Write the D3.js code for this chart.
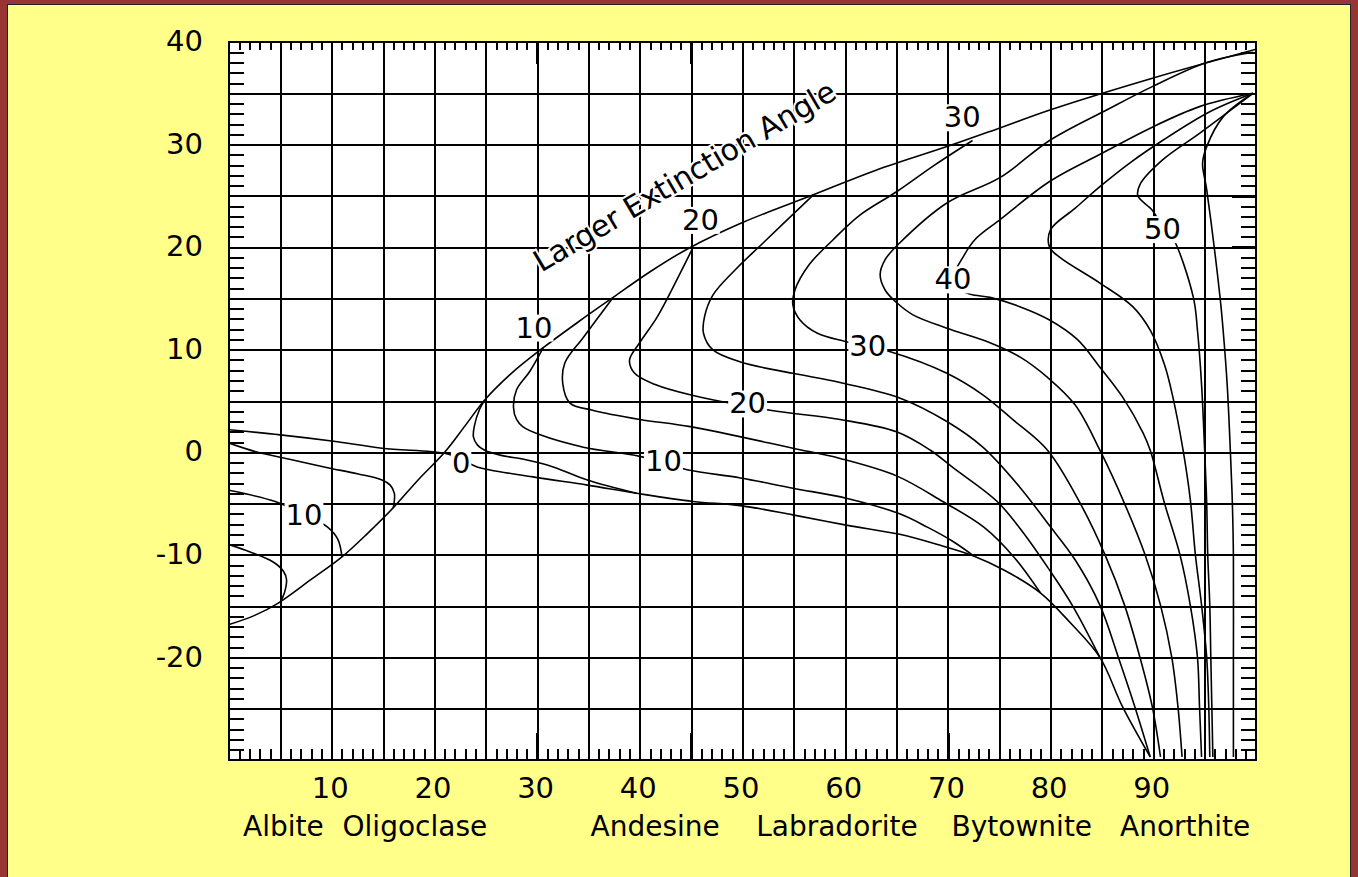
<!DOCTYPE html>
<html><head><meta charset="utf-8">
<script src="https://cdn.jsdelivr.net/npm/d3@7"></script>
<style>
html,body{margin:0;padding:0;background:#983434;}
svg{display:block;}
text{font-family:"DejaVu Sans",sans-serif;fill:#000;}
</style>
</head><body>
<svg id="c" width="1358" height="877"></svg>
<script>
// ---------- data ----------
const xDomain = [0, 100];
const yDomain = [-30, 40];
const xTickLabels = [10, 20, 30, 40, 50, 60, 70, 80, 90];
const yTickLabels = [40, 30, 20, 10, 0, -10, -20];
const mineralNames = ["Albite", "Oligoclase", "Andesine", "Labradorite", "Bytownite", "Anorthite"];
const mineralCenters = [5.3, 18.1, 41.5, 59.2, 77.2, 93.1];
const longTicksLeft = [35, 30];
const longTicksRight = [35, 30, 25, 20, -25];
const longTicksTop = [20, 30, 45, 65, 80];
const longTicksBottom = [20, 30, 35, 45, 70, 75];

// envelope: "Larger Extinction Angle"
const envelope = [[0,-16.8],[2.5,-15.9],[4.8,-14.7],[8,-12.4],[11,-10.2],[13.5,-7.9],[16,-5.4],[18.5,-2.6],[21,0],[23,2.6],[24.9,5.1],[27.5,7.7],[30.6,10.2],[34,12.7],[37.4,15.1],[41,17.6],[44.6,19.8],[50,22.4],[56.9,25.1],[63,27.5],[70.2,29.9],[75,31.6],[80,33.4],[90,36.5],[100,39.3]];

// left-hand curves (low An)
const leftA = [[0,0.9],[2.8,0.0],[6,-0.7],[9.6,-1.5],[12.5,-2.1],[14.9,-2.7],[15.7,-3.2],[16.1,-4.0],[16.1,-4.7],[16.0,-5.4]];
const leftB = [[0,-3.7],[4.5,-4.8],[7.0,-5.9],[9.6,-7.3],[10.6,-8.5],[11.0,-10.2]];
const leftC = [[0,-9.0],[2.0,-9.7],[4.3,-10.7],[5.3,-11.6],[5.6,-12.4],[5.4,-13.7],[5.0,-14.6]];

// curves of equal larger extinction angle
const ang0  = [[0,2.2],[5,1.7],[10,1.1],[14.9,0.4],[21,-0.1],[22.5,-0.6],[24.1,-1.4],[29.6,-2.4],[34.9,-3.2],[39.7,-4.0],[45.2,-4.8],[49.8,-5.2],[54.9,-6.1],[60.1,-7.1],[65.3,-8.0],[69,-9.0],[72.5,-10.1],[75.5,-11.5],[79.0,-13.7],[81.9,-16.6],[84.8,-20.0],[87.0,-24.8],[89.7,-29.7]];
const ang5  = [[24.9,5.1],[24.4,4.2],[23.9,2.6],[23.8,1.5],[24.2,0.7],[24.9,0.2],[26.5,-0.3],[28.8,-0.7],[31.5,-1.4],[34.9,-2.7],[39.7,-4.0]];
const ang10 = [[30.6,10.2],[29.3,7.9],[28.0,6.1],[27.7,4.4],[28.0,3.2],[28.6,2.5],[30.3,1.7],[34.5,0.5],[40.0,-0.4],[44.6,-1.7],[49.8,-2.5],[54.9,-3.5],[60.2,-4.5],[65.3,-6.0],[68,-7.3],[70.5,-8.7],[72.5,-10.1]];
const ang15 = [[37.4,15.1],[34.5,11.2],[32.7,8.7],[32.5,6.7],[33.2,4.8],[35.4,4.1],[40,3.2],[44.9,2.5],[54.9,0.4],[59.5,-0.6],[65.0,-2.3],[69.5,-4.8],[73.5,-7.3],[76.5,-10.3],[79.0,-13.7]];
const ang20 = [[45.2,20.0],[43.9,17.4],[41.7,13.2],[40.0,10.7],[39.0,9.0],[39.5,7.7],[41.5,6.6],[44.9,5.6],[52.7,4.1],[59.5,3.2],[65.0,2.0],[68.3,0.2],[70.5,-1.5],[74.8,-4.8],[77.3,-7.8],[79.7,-11.2],[82.1,-14.9],[84.8,-20.0]];
const ang25 = [[56.9,25.1],[52.0,20.4],[49.3,17.8],[47.1,15.3],[46.3,13.2],[46.2,11.6],[47.1,10.0],[49.8,8.8],[54.9,7.7],[59.5,6.8],[65.3,5.3],[69.9,3.0],[73.4,0.5],[77.0,-3.4],[79.7,-6.9],[82.4,-10.5],[84.8,-14.9],[86.6,-20.0],[88.2,-24.8],[89.7,-29.7]];
const ang30 = [[72.4,30.4],[68.7,28.0],[65.0,25.4],[61.4,23.1],[58.8,20.7],[56.5,18.3],[55.1,15.8],[54.9,14.4],[55.6,12.9],[57.3,11.6],[60.0,10.8],[64.4,9.8],[69.9,7.7],[73.4,5.6],[76.3,3.2],[79.7,0.2],[82.9,-5.0],[85.3,-10.0],[87.2,-14.9],[88.7,-20.0],[89.9,-24.8],[90.7,-29.7]];
const ang35 = [[99.7,39.0],[95.2,38.0],[90,35.7],[85.5,33.4],[79.9,30.4],[75.1,26.8],[69.9,24.3],[65.3,20.4],[63.9,18.8],[63.4,17.3],[63.9,15.8],[65.0,14.6],[66.6,13.4],[69.9,12.1],[73.8,10.8],[77.0,9.3],[79.7,7.3],[82.4,4.6],[84.8,0.2],[87.2,-5.0],[89.2,-10.0],[90.7,-14.9],[91.8,-20.0],[92.4,-24.8],[92.8,-29.7]];
const ang40 = [[99.7,35.0],[94.5,33.7],[89.7,31.6],[85.1,29.2],[79.9,26.4],[75.1,22.7],[72.6,20.7],[71.4,18.9],[70.6,17.3],[70.8,16.1],[72.2,15.4],[74.1,15.1],[77.0,14.2],[79.9,12.9],[82.6,11.0],[84.8,8.3],[87.0,5.4],[89.0,1.9],[89.7,0.2],[91.1,-5.0],[92.6,-10.0],[93.6,-14.9],[94.3,-20.0],[94.5,-24.8],[94.7,-29.7]];
const ang45 = [[99.7,35.0],[95.5,33.2],[90.9,30.4],[87.7,28.2],[84.8,25.9],[82.4,23.8],[80.0,21.7],[79.9,20.0],[80.9,19.0],[84.8,16.5],[88.0,14.2],[89.7,11.9],[91.1,8.5],[91.9,5.4],[92.9,0.2],[93.6,-4.6],[94.1,-10.0],[94.7,-14.9],[95.2,-20.0],[95.4,-24.8],[95.5,-29.7]];
const ang50 = [[99.7,35.0],[94.5,31.1],[90.9,28.5],[88.7,26.1],[88.5,25.0],[89.9,23.6],[90.9,22.0],[91.9,20.9],[93.9,15.1],[94.3,11.9],[94.7,6.6],[95.0,0.2],[95.2,-5.0],[95.3,-10.0],[95.5,-14.9],[95.6,-20.0],[95.7,-24.8],[95.8,-29.7]];
const ang55 = [[99.7,35.0],[96.8,32.7],[95.2,29.8],[94.8,28.2],[95.2,25.6],[96.5,15.1],[96.8,11.9],[97.2,6.5],[97.5,0.2],[97.7,-5.0],[97.8,-10.0],[97.8,-20.0],[97.8,-29.7]];

// curve labels
const labelTexts = ["0", "10", "10", "20", "30", "40", "50", "10", "20", "30"];
const labelX = [22.6, 7.3, 42.3, 50.5, 62.2, 70.5, 90.9, 29.7, 45.9, 71.4];
const labelY = [-1.0, -6.1, -0.8, 4.8, 10.4, 16.9, 21.8, 12.2, 22.7, 32.7];
const titleText = "Larger Extinction Angle";
const titleAt = [30.4, 17.5];

// ---------- drawing ----------
const W = 1358, H = 877;
const svg = d3.select("#c");
svg.append("rect").attr("width", W).attr("height", H).attr("fill", "#983434");
svg.append("rect").attr("x", 7.5).attr("y", 4.5).attr("width", 1343).attr("height", H)
   .attr("fill", "#ffff8a").attr("stroke", "#222").attr("stroke-width", 1);

const x = d3.scaleLinear().domain(xDomain).range([229, 1256]);
const y = d3.scaleLinear().domain(yDomain).range([760, 42]);
const pw = x(100) - x(0), ph = y(-30) - y(40);

svg.append("rect").attr("x", x(0)).attr("y", y(40)).attr("width", pw).attr("height", ph).attr("fill", "#fff");
svg.append("clipPath").attr("id", "clip").append("rect")
   .attr("x", x(0)).attr("y", y(40)).attr("width", pw).attr("height", ph);

function styleAxis(g, w) {
  g.select(".domain").remove();
  g.selectAll(".tick line").attr("stroke", "#000").attr("stroke-width", w).attr("shape-rendering", "crispEdges");
}

// grid
const gridX = d3.range(5, 100, 5), gridY = d3.range(-25, 40, 5);
svg.append("g").attr("transform", `translate(0,${y(-30)})`)
   .call(d3.axisBottom(x).tickValues(gridX).tickSize(-ph).tickFormat(""))
   .call(g => styleAxis(g, 2));
svg.append("g").attr("transform", `translate(${x(0)},0)`)
   .call(d3.axisLeft(y).tickValues(gridY).tickSize(-pw).tickFormat(""))
   .call(g => styleAxis(g, 2));

// curves
const line = d3.line().x(d => x(d[0])).y(d => y(d[1])).curve(d3.curveCatmullRom.alpha(0.5));
const curves = [envelope, leftA, leftB, leftC, ang0, ang5, ang10, ang15, ang20, ang25, ang30, ang35, ang40, ang45, ang50, ang55];
svg.append("g").attr("clip-path", "url(#clip)")
   .selectAll("path").data(curves).join("path")
   .attr("d", line).attr("fill", "none").attr("stroke", "#000").attr("stroke-width", 1.6)
   .attr("stroke-linejoin", "round");

// curve labels with white boxes
const lg = svg.append("g");
labelTexts.forEach((t, i) => {
  const g = lg.append("g");
  const tx = g.append("text").attr("x", x(labelX[i])).attr("y", y(labelY[i]))
    .attr("text-anchor", "middle").attr("dy", "0.36em")
    .style("font-size", "29px").text(t);
  const b = tx.node().getBBox();
  g.insert("rect", "text").attr("x", b.x - 1).attr("y", b.y + 4).attr("width", b.width + 2)
    .attr("height", b.height - 7).attr("fill", "#fff");
});

// title along envelope
svg.append("text")
   .attr("transform", `translate(${x(titleAt[0])},${y(titleAt[1])}) rotate(-30.5)`)
   .attr("textLength", 345).attr("lengthAdjust", "spacing")
   .style("font-size", "30px")
   .attr("stroke", "#fff").attr("stroke-width", 4).attr("paint-order", "stroke")
   .text(titleText);

// frame
svg.append("rect").attr("x", x(0)).attr("y", y(40)).attr("width", pw).attr("height", ph)
   .attr("fill", "none").attr("stroke", "#000").attr("stroke-width", 2);

// minor ticks inside the frame
const minorX = d3.range(1, 100), minorY = d3.range(-29, 40);
svg.append("g").attr("transform", `translate(0,${y(40)})`)
   .call(d3.axisTop(x).tickValues(minorX).tickSize(-8).tickFormat("")).call(g => styleAxis(g, 2));
svg.append("g").attr("transform", `translate(0,${y(-30)})`)
   .call(d3.axisBottom(x).tickValues(minorX).tickSize(-11).tickFormat("")).call(g => styleAxis(g, 2));
svg.append("g").attr("transform", `translate(${x(0)},0)`)
   .call(d3.axisLeft(y).tickValues(minorY).tickSize(-15).tickFormat("")).call(g => styleAxis(g, 2));
svg.append("g").attr("transform", `translate(${x(100)},0)`)
   .call(d3.axisRight(y).tickValues(minorY).tickSize(-15).tickFormat("")).call(g => styleAxis(g, 2));
// longer ticks
svg.append("g").attr("transform", `translate(0,${y(40)})`)
   .call(d3.axisTop(x).tickValues(longTicksTop).tickSize(-22).tickFormat("")).call(g => styleAxis(g, 2.5));
svg.append("g").attr("transform", `translate(0,${y(-30)})`)
   .call(d3.axisBottom(x).tickValues(longTicksBottom).tickSize(-27).tickFormat("")).call(g => styleAxis(g, 2.5));
svg.append("g").attr("transform", `translate(${x(0)},0)`)
   .call(d3.axisLeft(y).tickValues(longTicksLeft).tickSize(-23).tickFormat("")).call(g => styleAxis(g, 2.5));
svg.append("g").attr("transform", `translate(${x(100)},0)`)
   .call(d3.axisRight(y).tickValues(longTicksRight).tickSize(-24).tickFormat("")).call(g => styleAxis(g, 2.5));

// tick labels (plain hyphen for negatives, as in the reference)
const yl = svg.append("g").attr("transform", `translate(${x(0)},0)`)
   .call(d3.axisLeft(y).tickValues(yTickLabels).tickSize(0).tickPadding(26).tickFormat(d => String(d)));
yl.select(".domain").remove();
yl.selectAll("text").style("font-size", "29px").attr("dy", "0.3em").attr("fill", "#000")
   .style("font-family", '"DejaVu Sans",sans-serif');

const xl = svg.append("g").attr("transform", `translate(0,${y(-30)})`)
   .call(d3.axisBottom(x).tickValues(xTickLabels).tickSize(0).tickPadding(17).tickFormat(d => String(d)));
xl.select(".domain").remove();
xl.selectAll("text").style("font-size", "29px").attr("dx", "-2").attr("fill", "#000")
   .style("font-family", '"DejaVu Sans",sans-serif');

// mineral names
svg.append("g").selectAll("text").data(mineralNames).join("text")
   .attr("x", (d, i) => x(mineralCenters[i])).attr("y", 836)
   .attr("text-anchor", "middle").style("font-size", "28px").text(d => d);
</script>
</body></html>
